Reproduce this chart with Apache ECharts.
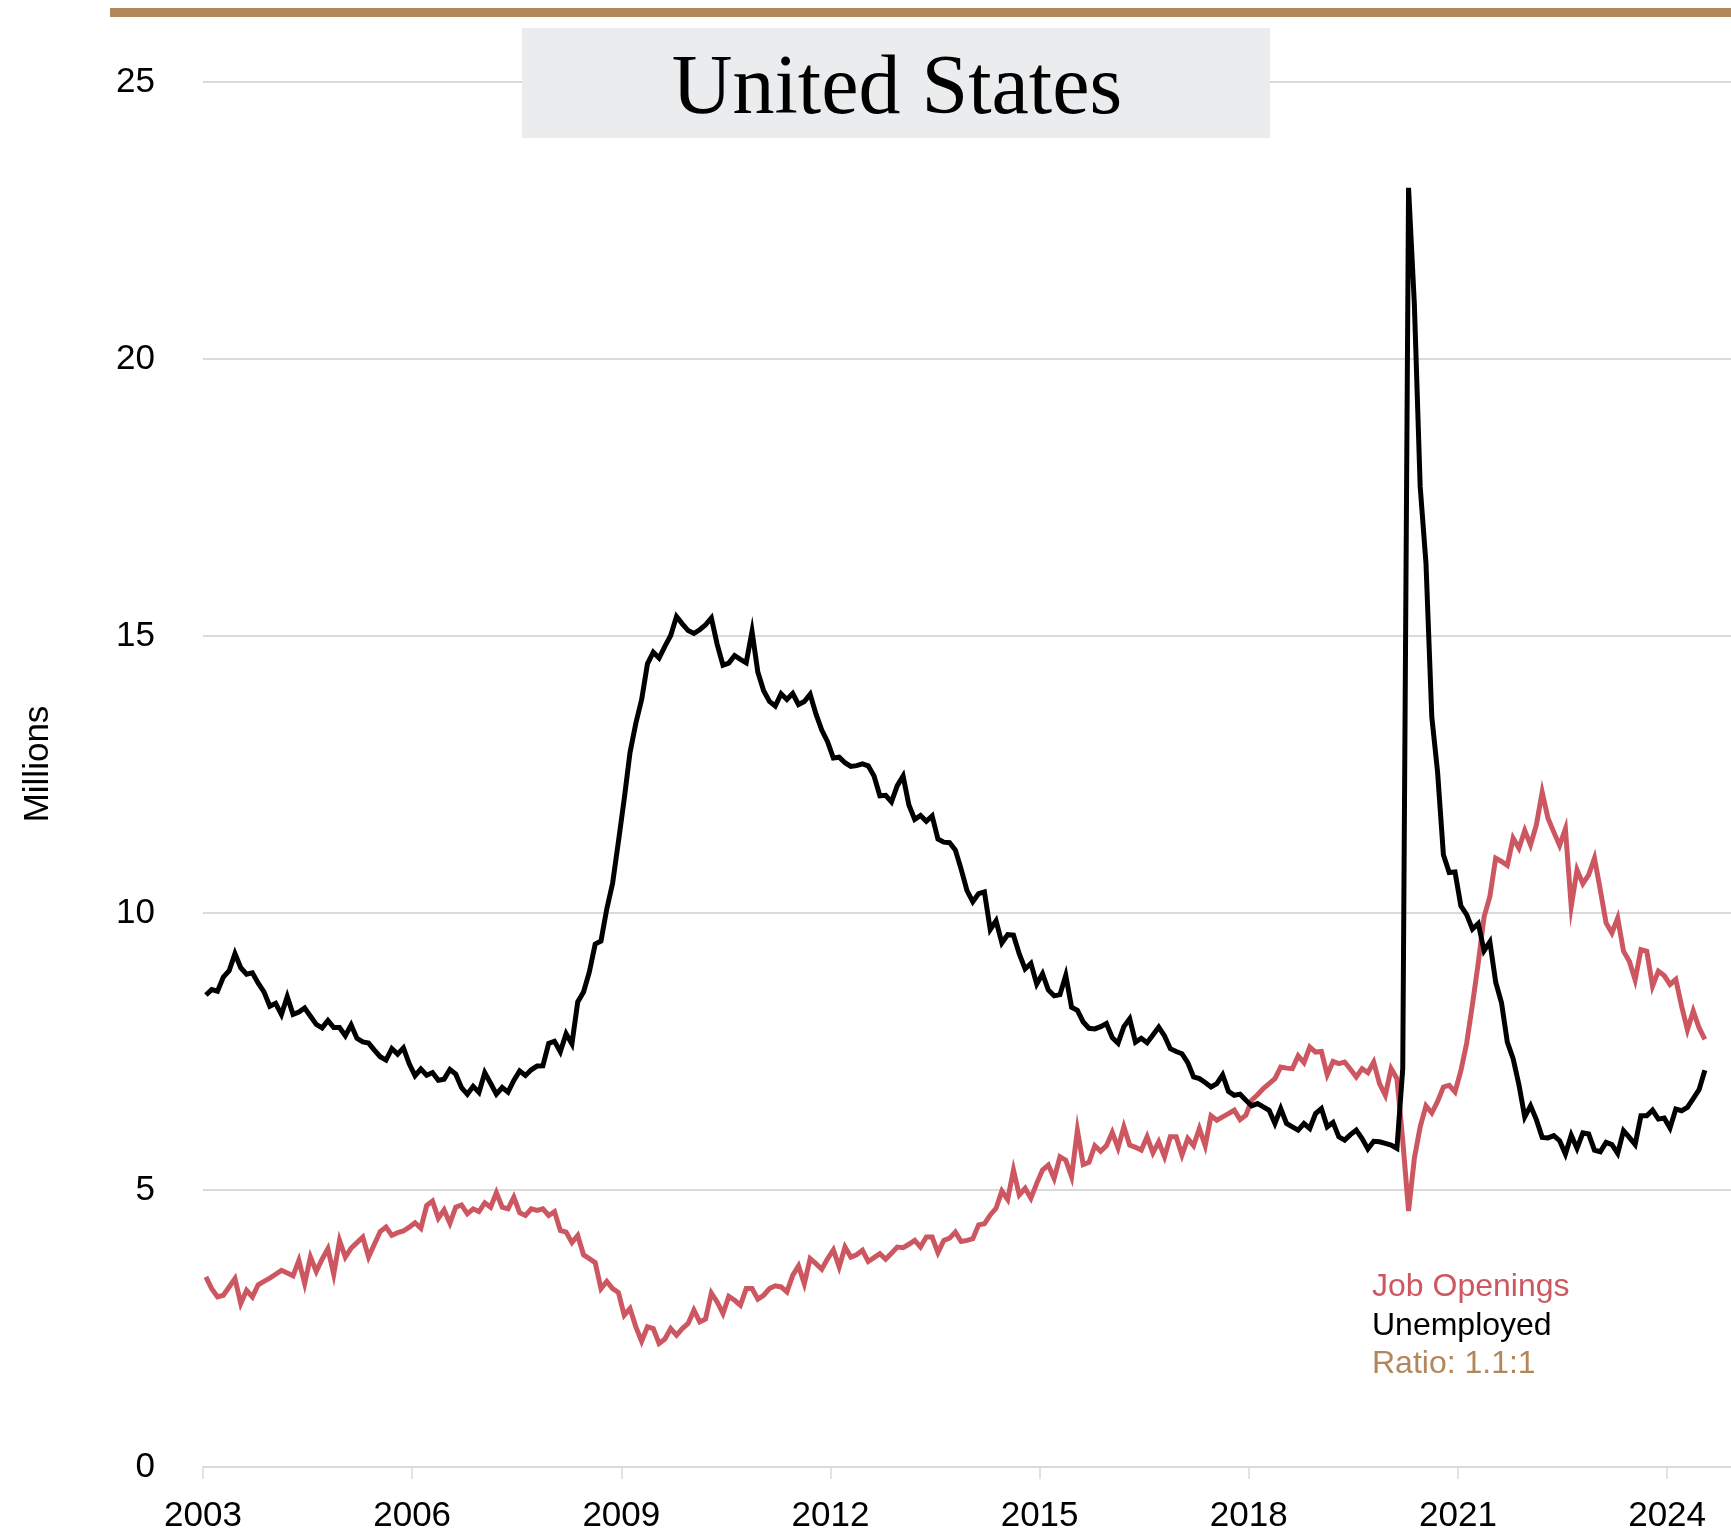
<!DOCTYPE html>
<html>
<head>
<meta charset="utf-8">
<title>United States – Job Openings vs Unemployed</title>
<script src="https://cdn.jsdelivr.net/npm/echarts@6/dist/echarts.min.js"></script>
<style>
  html, body { margin: 0; padding: 0; background: #ffffff; }
  #chart { width: 1731px; height: 1534px; }
</style>
</head>
<body>
<div id="chart"></div>
<script>
// Monthly series, January 2003 to July 2024, in millions.
const startYear = 2003;
const monthsShown = 263; // axis runs from Jan 2003 to the end of Nov 2024

const jobOpenings = [
  // 2003
  3.43, 3.22, 3.07, 3.10, 3.25, 3.40, 2.95, 3.19, 3.07, 3.29, 3.35, 3.41,
  // 2004
  3.48, 3.55, 3.50, 3.45, 3.73, 3.31, 3.79, 3.53, 3.75, 3.94, 3.48, 4.09,
  // 2005
  3.79, 3.95, 4.05, 4.15, 3.79, 4.02, 4.25, 4.33, 4.18, 4.23, 4.26, 4.33,
  // 2006
  4.41, 4.31, 4.72, 4.80, 4.49, 4.64, 4.40, 4.69, 4.73, 4.57, 4.66, 4.61,
  // 2007
  4.77, 4.69, 4.95, 4.69, 4.66, 4.87, 4.59, 4.54, 4.66, 4.63, 4.66, 4.54,
  // 2008
  4.61, 4.27, 4.24, 4.05, 4.18, 3.83, 3.76, 3.69, 3.22, 3.35, 3.22, 3.15,
  // 2009
  2.74, 2.86, 2.53, 2.27, 2.53, 2.50, 2.23, 2.31, 2.50, 2.38, 2.50, 2.59,
  // 2010
  2.83, 2.62, 2.67, 3.14, 2.98, 2.77, 3.08, 3.01, 2.92, 3.22, 3.22, 3.03,
  // 2011
  3.10, 3.22, 3.27, 3.25, 3.16, 3.46, 3.63, 3.31, 3.76, 3.67, 3.57, 3.76,
  // 2012
  3.92, 3.61, 3.97, 3.79, 3.83, 3.91, 3.71, 3.78, 3.85, 3.75, 3.86, 3.97,
  // 2013
  3.96, 4.02, 4.09, 3.97, 4.15, 4.15, 3.87, 4.09, 4.13, 4.24, 4.07, 4.09,
  // 2014
  4.12, 4.37, 4.39, 4.55, 4.67, 4.98, 4.83, 5.36, 4.91, 5.03, 4.85, 5.12,
  // 2015
  5.36, 5.45, 5.21, 5.60, 5.54, 5.24, 6.08, 5.46, 5.50, 5.80, 5.70, 5.80,
  // 2016
  6.04, 5.76, 6.14, 5.81, 5.77, 5.72, 5.96, 5.67, 5.87, 5.60, 5.96, 5.96,
  // 2017
  5.63, 5.93, 5.80, 6.11, 5.80, 6.34, 6.26, 6.32, 6.38, 6.44, 6.27, 6.35,
  // 2018
  6.62, 6.72, 6.83, 6.92, 7.01, 7.22, 7.20, 7.19, 7.42, 7.30, 7.58, 7.49,
  // 2019
  7.50, 7.08, 7.32, 7.28, 7.31, 7.18, 7.04, 7.19, 7.12, 7.31, 6.92, 6.71,
  // 2020
  7.19, 7.01, 5.90, 4.62, 5.57, 6.14, 6.52, 6.39, 6.60, 6.86, 6.89, 6.77,
  // 2021
  7.15, 7.65, 8.35, 9.10, 9.93, 10.30, 10.99, 10.93, 10.86, 11.35, 11.17, 11.49,
  // 2022
  11.23, 11.59, 12.18, 11.71, 11.46, 11.22, 11.52, 10.12, 10.78, 10.53, 10.69, 10.99,
  // 2023
  10.42, 9.82, 9.64, 9.91, 9.31, 9.13, 8.79, 9.34, 9.31, 8.68, 8.95, 8.87,
  // 2024
  8.71, 8.80, 8.32, 7.89, 8.23, 7.93, 7.72
];

const unemployed = [
  // 2003
  8.520, 8.618, 8.588, 8.842, 8.957, 9.266, 9.011, 8.896, 8.921, 8.732, 8.576, 8.317,
  // 2004
  8.370, 8.167, 8.491, 8.170, 8.212, 8.286, 8.136, 7.990, 7.927, 8.061, 7.932, 7.934,
  // 2005
  7.784, 7.980, 7.737, 7.672, 7.651, 7.524, 7.406, 7.345, 7.553, 7.453, 7.566, 7.279,
  // 2006
  7.064, 7.184, 7.072, 7.120, 6.980, 7.001, 7.175, 7.091, 6.847, 6.727, 6.872, 6.762,
  // 2007
  7.116, 6.927, 6.731, 6.850, 6.766, 6.979, 7.149, 7.067, 7.170, 7.237, 7.240, 7.645,
  // 2008
  7.685, 7.497, 7.822, 7.637, 8.395, 8.575, 8.937, 9.438, 9.494, 10.074, 10.538, 11.286,
  // 2009
  12.058, 12.898, 13.426, 13.853, 14.499, 14.707, 14.601, 14.814, 15.009, 15.352, 15.219, 15.098,
  // 2010
  15.046, 15.113, 15.202, 15.325, 14.849, 14.474, 14.512, 14.648, 14.579, 14.516, 15.081, 14.348,
  // 2011
  14.013, 13.820, 13.737, 13.957, 13.855, 13.962, 13.763, 13.818, 13.948, 13.594, 13.302, 13.093,
  // 2012
  12.797, 12.813, 12.713, 12.646, 12.660, 12.692, 12.656, 12.471, 12.115, 12.124, 12.005, 12.298,
  // 2013
  12.471, 11.950, 11.689, 11.760, 11.654, 11.751, 11.335, 11.279, 11.270, 11.136, 10.787, 10.404,
  // 2014
  10.202, 10.349, 10.380, 9.702, 9.859, 9.460, 9.608, 9.599, 9.262, 8.990, 9.090, 8.717,
  // 2015
  8.903, 8.610, 8.504, 8.526, 8.875, 8.299, 8.244, 8.033, 7.919, 7.907, 7.948, 8.004,
  // 2016
  7.75, 7.65, 7.95, 8.09, 7.67, 7.74, 7.66, 7.80, 7.94, 7.78, 7.55, 7.50,
  // 2017
  7.46, 7.30, 7.04, 7.01, 6.94, 6.86, 6.92, 7.08, 6.78, 6.71, 6.73, 6.62,
  // 2018
  6.52, 6.56, 6.50, 6.44, 6.20, 6.47, 6.20, 6.14, 6.08, 6.20, 6.11, 6.38,
  // 2019
  6.47, 6.14, 6.22, 5.96, 5.90, 6.00, 6.08, 5.93, 5.74, 5.88, 5.87, 5.84,
  // 2020
  5.81, 5.75, 7.19, 23.09, 20.99, 17.70, 16.31, 13.54, 12.54, 11.05, 10.73, 10.74,
  // 2021
  10.13, 9.97, 9.71, 9.81, 9.32, 9.48, 8.75, 8.38, 7.67, 7.37, 6.90, 6.32,
  // 2022
  6.52, 6.27, 5.95, 5.94, 5.98, 5.89, 5.65, 5.99, 5.75, 6.03, 6.01, 5.72,
  // 2023
  5.69, 5.86, 5.82, 5.66, 6.07, 5.95, 5.82, 6.34, 6.34, 6.44, 6.28, 6.30,
  // 2024
  6.12, 6.46, 6.43, 6.49, 6.65, 6.81, 7.16
];

const xTickYears = [2003, 2006, 2009, 2012, 2015, 2018, 2021, 2024];
const yTicks = [0, 5, 10, 15, 20, 25];
const legendLines = ['Job Openings', 'Unemployed', 'Ratio: 1.1:1'];

const RED = '#cd5761';
const BLACK = '#000000';
const BRONZE = '#b2875a';
const GRID = '#dadada';
const SANS = '"Liberation Sans", Arial, Helvetica, sans-serif';
const SERIF = '"Liberation Serif", "Times New Roman", serif';

// Each monthly value sits at the middle of its month on a decimal-year axis.
const toPoints = (values) => values.map((v, i) => [startYear + (i + 0.5) / 12, v]);

const chart = echarts.init(document.getElementById('chart'), null, { renderer: 'canvas' });

chart.setOption({
  animation: false,
  backgroundColor: '#ffffff',
  grid: { left: 203, right: 0, top: 82, bottom: 63, containLabel: false },
  xAxis: {
    type: 'value',
    min: startYear,
    max: startYear + monthsShown / 12,
    interval: 3,
    axisLine: { show: true, lineStyle: { color: GRID, width: 2 } },
    axisTick: {
      show: true,
      customValues: xTickYears,
      length: 12,
      lineStyle: { color: GRID, width: 1.5 }
    },
    axisLabel: {
      customValues: xTickYears,
      formatter: (v) => (Number.isInteger(v) ? String(v) : ''),
      color: '#000',
      fontSize: 35,
      fontFamily: SANS,
      margin: 32
    },
    splitLine: { show: false }
  },
  yAxis: {
    type: 'value',
    min: yTicks[0],
    max: yTicks[yTicks.length - 1],
    interval: 5,
    axisLine: { show: false },
    axisTick: { show: false },
    axisLabel: {
      color: '#000',
      fontSize: 35,
      fontFamily: SANS,
      margin: 48
    },
    splitLine: { show: true, lineStyle: { color: GRID, width: 2 } }
  },
  series: [
    {
      name: 'Job Openings',
      type: 'line',
      data: toPoints(jobOpenings),
      showSymbol: false,
      clip: true,
      lineStyle: { color: RED, width: 5, join: 'miter' },
      itemStyle: { color: RED },
      z: 3
    },
    {
      name: 'Unemployed',
      type: 'line',
      data: toPoints(unemployed),
      showSymbol: false,
      clip: true,
      lineStyle: { color: BLACK, width: 5, join: 'miter' },
      itemStyle: { color: BLACK },
      z: 4
    }
  ],
  graphic: [
    // bronze rule across the top
    { type: 'rect', z: 100, shape: { x: 110, y: 8, width: 1621, height: 9 }, style: { fill: BRONZE } },
    // title panel
    { type: 'rect', z: 100, shape: { x: 522, y: 28, width: 748, height: 110 }, style: { fill: '#ebeced' } },
    {
      type: 'text', z: 101, x: 897, y: 91,
      style: { text: 'United States', fill: '#000', font: '84px ' + SERIF, textAlign: 'center', textVerticalAlign: 'middle' }
    },
    // y-axis title
    {
      type: 'text', z: 101, x: 38, y: 764, rotation: Math.PI / 2,
      style: { text: 'Millions', fill: '#000', font: '35px ' + SANS, textAlign: 'center', textVerticalAlign: 'middle' }
    },
    // series key
    {
      type: 'text', z: 101, x: 1372, y: 1287,
      style: { text: legendLines[0], fill: RED, font: '32px ' + SANS, textAlign: 'left', textVerticalAlign: 'middle' }
    },
    {
      type: 'text', z: 101, x: 1372, y: 1326,
      style: { text: legendLines[1], fill: BLACK, font: '32px ' + SANS, textAlign: 'left', textVerticalAlign: 'middle' }
    },
    {
      type: 'text', z: 101, x: 1372, y: 1364,
      style: { text: legendLines[2], fill: BRONZE, font: '32px ' + SANS, textAlign: 'left', textVerticalAlign: 'middle' }
    }
  ]
});
</script>
</body>
</html>
